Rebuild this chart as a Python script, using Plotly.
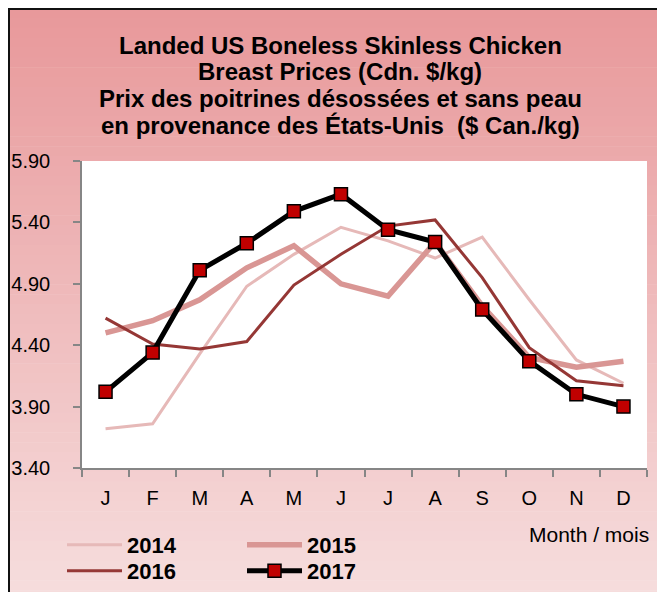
import plotly.graph_objects as go

# ---- data ----
months = ["Jan", "Feb", "Mar", "Apr", "May", "Jun", "Jul", "Aug", "Sep", "Oct", "Nov", "Dec"]
month_labels = ["J", "F", "M", "A", "M", "J", "J", "A", "S", "O", "N", "D"]
p2014 = [3.72, 3.76, 4.33, 4.88, 5.14, 5.36, 5.25, 5.11, 5.28, 4.77, 4.28, 4.09]
p2015 = [4.50, 4.60, 4.77, 5.03, 5.21, 4.90, 4.80, 5.24, 4.72, 4.30, 4.22, 4.27]
p2016 = [4.62, 4.41, 4.37, 4.43, 4.89, 5.14, 5.37, 5.42, 4.95, 4.38, 4.11, 4.07]
p2017 = [4.02, 4.34, 5.01, 5.23, 5.49, 5.63, 5.34, 5.24, 4.69, 4.27, 4.00, 3.90]
y_ticks = [3.40, 3.90, 4.40, 4.90, 5.40, 5.90]
title_lines = [
    "Landed US Boneless Skinless Chicken",
    "Breast Prices (Cdn. $/kg)",
    "Prix des poitrines désossées et sans peau",
    "en provenance des États-Unis  ($ Can./kg)",
]

# ---- layout geometry (screen px; page body adds an 8px offset) ----
W, H = 665, 592
OFF = 8
S_L, S_T, S_R, S_B = 82, 161, 647, 468
PW, PH = S_R - S_L, S_B - S_T
L, T = S_L - OFF, S_T - OFF
R, B = W - L - PW, H - T - PH
FONT = "Liberation Sans, Arial, sans-serif"


def px_x(px):
    """screen x -> paper x"""
    return (px - S_L) / PW


def px_y(py):
    """screen y -> paper y"""
    return (S_B - py) / PH


xs = list(range(len(months)))

fig = go.Figure()
fig.add_trace(go.Scatter(x=xs, y=p2014, name="<b>2014</b>", mode="lines",
                         line=dict(color="#E6B9B8", width=3), legend="legend"))
fig.add_trace(go.Scatter(x=xs, y=p2015, name="<b>2015</b>", mode="lines",
                         line=dict(color="#D99694", width=5.5), legend="legend2"))
fig.add_trace(go.Scatter(x=xs, y=p2016, name="<b>2016</b>", mode="lines",
                         line=dict(color="#953735", width=3), legend="legend3"))
fig.add_trace(go.Scatter(x=xs, y=p2017, name="<b>2017</b>", mode="lines+markers",
                         line=dict(color="black", width=5),
                         marker=dict(symbol="square", size=13, color="#C00000",
                                     line=dict(color="black", width=1.5)),
                         legend="legend4"))

# background gradient strips
shapes = []
n = 60
top_c = (232, 152, 154)
bot_c = (246, 222, 222)
y0px, y1px = OFF, H + OFF
for i in range(n):
    a = y0px + (y1px - y0px) * i / n
    b = y0px + (y1px - y0px) * (i + 1) / n + 0.6
    f = (i + 0.5) / n
    c = tuple(round(top_c[k] + (bot_c[k] - top_c[k]) * f) for k in range(3))
    shapes.append(dict(type="rect", xref="paper", yref="paper",
                       x0=px_x(OFF), x1=px_x(W + OFF + 5), y0=px_y(b), y1=px_y(a),
                       fillcolor="rgb(%d,%d,%d)" % c, line=dict(width=0), layer="below"))
# white plot area
shapes.append(dict(type="rect", xref="x domain", yref="y domain", x0=0, x1=1, y0=0, y1=1,
                   fillcolor="white", line=dict(width=0), layer="below"))
# outer border
shapes.append(dict(type="rect", xref="paper", yref="paper",
                   x0=px_x(OFF + 1), x1=px_x(W + OFF + 10), y0=px_y(H + OFF + 10), y1=px_y(OFF + 1),
                   fillcolor="rgba(0,0,0,0)", line=dict(color="#111111", width=2), layer="above"))

annotations = []
for i, line in enumerate(title_lines):
    annotations.append(dict(text="<b>%s</b>" % line, xref="paper", yref="paper",
                            x=px_x(340), y=px_y(45 + i * 26.7), xanchor="center", yanchor="middle",
                            showarrow=False, font=dict(family=FONT, size=24, color="black")))
annotations.append(dict(text="Month / mois", xref="paper", yref="paper",
                        x=px_x(651), y=px_y(534), xanchor="right", yanchor="middle",
                        showarrow=False, font=dict(family=FONT, size=21, color="black")))


def leg(xpx, ypx):
    return dict(x=px_x(xpx), y=px_y(ypx), xanchor="left", yanchor="middle",
                bgcolor="rgba(0,0,0,0)", font=dict(family=FONT, size=22, color="black"),
                itemwidth=55, tracegroupgap=0)


fig.update_layout(
    width=W, height=H,
    margin=dict(l=L, r=R, t=T, b=B, autoexpand=False),
    paper_bgcolor="white", plot_bgcolor="white",
    font=dict(family=FONT, size=20, color="black"),
    shapes=shapes, annotations=annotations,
    legend=leg(62, 545),
    legend2=leg(242, 545),
    legend3=leg(62, 571),
    legend4=leg(242, 571),
    showlegend=True,
)

fig.update_xaxes(
    range=[-0.5, len(months) - 0.5],
    tickmode="array", tickvals=xs, ticktext=month_labels,
    ticks="", ticklabelstandoff=11,
    minor=dict(tickmode="array", tickvals=[i - 0.5 for i in range(len(months) + 1)],
               ticks="outside", ticklen=7, tickcolor="#868686", tickwidth=1.5),
    showline=True, linecolor="#868686", linewidth=1.5,
    showgrid=False, zeroline=False,
    tickfont=dict(family=FONT, size=20, color="black"),
)
fig.update_yaxes(
    range=[y_ticks[0], y_ticks[-1]],
    tickmode="array", tickvals=y_ticks, ticktext=["%.2f" % v for v in y_ticks],
    ticks="outside", ticklen=7, tickcolor="#868686", tickwidth=1.5,
    ticklabelstandoff=19,
    showline=True, linecolor="#868686", linewidth=1.5,
    showgrid=False, zeroline=False,
    tickfont=dict(family=FONT, size=20, color="black"),
)

fig.write_html("out.html")
